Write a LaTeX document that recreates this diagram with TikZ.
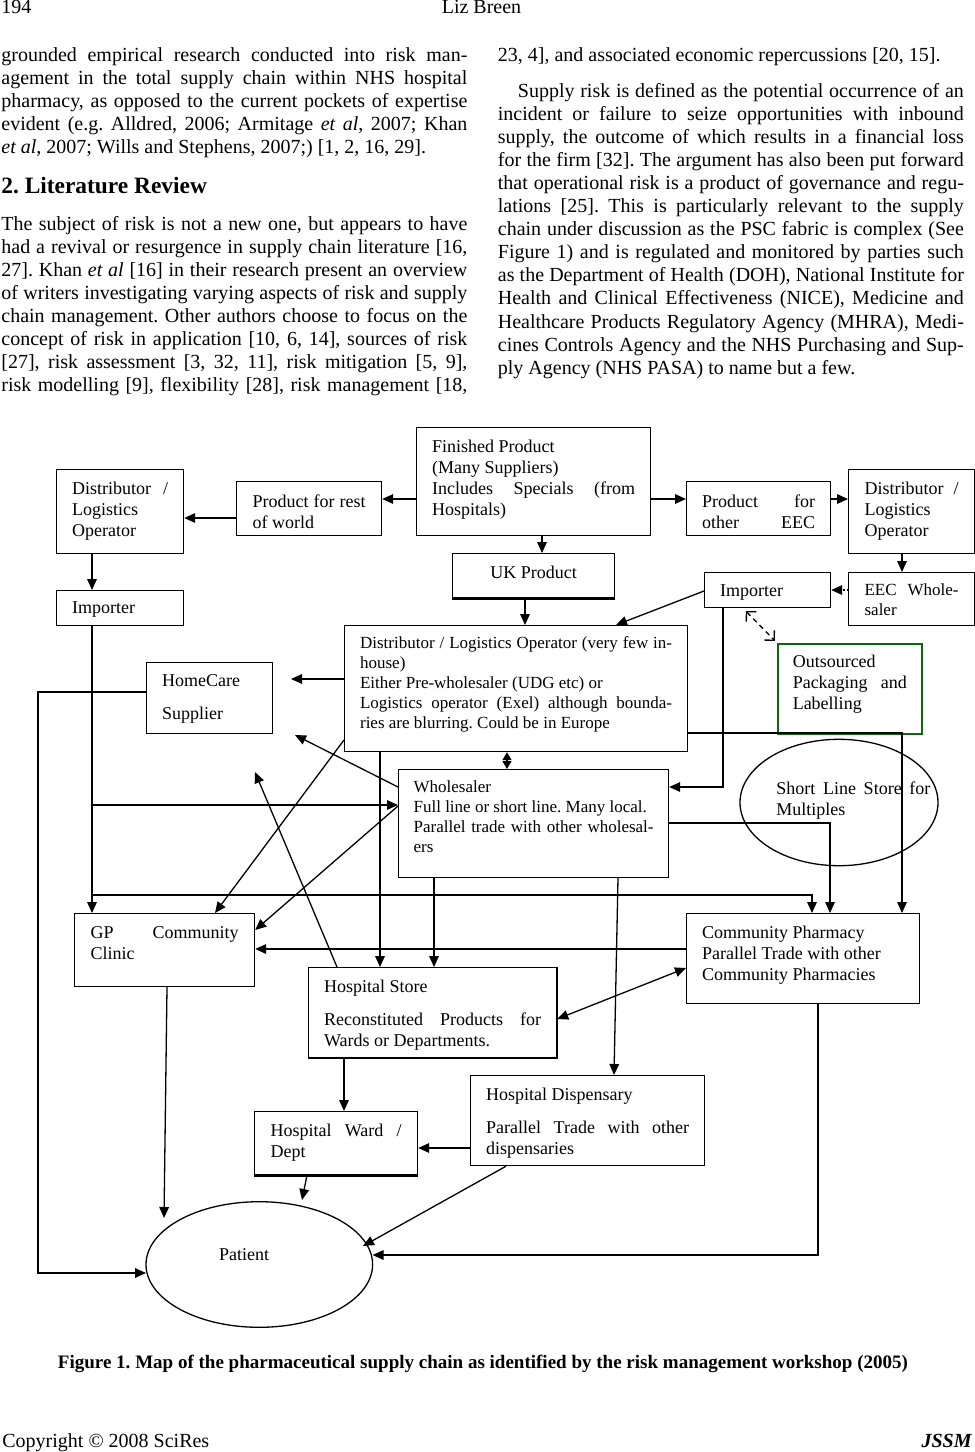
\documentclass[tikz,border=0pt]{standalone}
\usepackage{fontspec}
\setmainfont{Liberation Serif}
\usepackage{graphicx}
\usetikzlibrary{arrows.meta,shapes.geometric}
\frenchspacing
\newcommand\J[1]{{\spaceskip=0pt\xspaceskip=0pt\makebox[\hsize][s]{#1}}}
\newcommand\pbox[9]{%
  \pgfmathsetmacro\bxw{(#5-#3-2*#8)*0.5}%
  \pgfmathsetmacro\bxh{(#7-#4)*0.5}%
  \pgfmathsetmacro\bxd{(#6-#7)*0.5}%
  \pgfmathsetmacro\bxp{#8*0.5}%
  \node[bx,#1,anchor=north west,inner xsep=\bxp pt,inner ysep=0pt,
        text width=\bxw pt,text height=\bxh pt,text depth=\bxd pt] (#2) at (#3,#4) {#9};}
\definecolor{boxgreen}{RGB}{10,105,10}
\begin{document}
\begin{tikzpicture}[x=0.5pt,y=-0.5pt,
  bx/.style={draw,line width=0.6pt,align=flush left,font=\fontsize{9}{10.5}\selectfont},
  sm/.style={font=\fontsize{8.5}{10}\selectfont},
  body/.style={anchor=base west,inner sep=0pt,text width=233pt,align=flush left,font=\fontsize{10}{11.55}\selectfont},
  arr/.style={line width=0.65pt,-{Triangle[length=5.5pt,width=4.8pt]}},
  darr/.style={line width=0.65pt,{Triangle[length=5.5pt,width=4.8pt]}-{Triangle[length=5.5pt,width=4.8pt]}},
  sdarr/.style={line width=0.65pt,{Triangle[length=4pt,width=4.5pt]}-{Triangle[length=4pt,width=4.5pt]}},
  dasharr/.style={line width=0.65pt,dash pattern=on 2.5pt off 2pt,{Straight Barb[length=3.5pt,width=7pt]}-{Straight Barb[length=3.5pt,width=7pt]}},
  ell/.style={draw,ellipse,line width=0.65pt,inner sep=0pt,outer sep=0pt}
]
\fill[white] (0,0) rectangle (975,1452);
\useasboundingbox (0,0) rectangle (975,1452);

% ---------- page text ----------
\node[anchor=base west,inner sep=0pt,font=\fontsize{10}{12}\selectfont] (pno) at (1,13) {194};
\node[anchor=base,inner sep=0pt,font=\fontsize{10}{12}\selectfont] (auth) at (481.5,13) {Liz Breen};

\node[body] (colA1) at (1,61) {%
\J{grounded empirical research conducted into risk man-}\\
\J{agement in the total supply chain within NHS hospital}\\
\J{pharmacy, as opposed to the current pockets of expertise}\\
\J{evident (e.g. Alldred, 2006; Armitage \emph{et al}, 2007; Khan}\\
\emph{et al}, 2007; Wills and Stephens, 2007;) [1, 2, 16, 29].};

\node[anchor=base west,inner sep=0pt,font=\fontsize{11.7}{14}\selectfont\bfseries] (head) at (1,193) {2. Literature Review};

\node[body] (colA2) at (1,230) {%
\J{The subject of risk is not a new one, but appears to have}\\
\J{had a revival or resurgence in supply chain literature [16,}\\
\J{27]. Khan \emph{et al} [16] in their research present an overview}\\
\J{of writers investigating varying aspects of risk and supply}\\
\J{chain management. Other authors choose to focus on the}\\
\J{concept of risk in application [10, 6, 14], sources of risk}\\
\J{[27], risk assessment [3, 32, 11], risk mitigation [5, 9],}\\
\J{risk modelling [9], flexibility [28], risk management [18,}};

\node[body] (colB1) at (497.5,61) {23, 4], and associated economic repercussions [20, 15].};

\node[body] (colB2) at (497.5,97) {%
\J{\hspace*{10pt}Supply risk is defined as the potential occurrence of an}\\
\J{incident or failure to seize opportunities with inbound}\\
\J{supply, the outcome of which results in a financial loss}\\
\J{for the firm [32]. The argument has also been put forward}\\
\J{that operational risk is a product of governance and regu-}\\
\J{lations [25]. This is particularly relevant to the supply}\\
\J{chain under discussion as the PSC fabric is complex (See}\\
\J{Figure 1) and is regulated and monitored by parties such}\\
\J{as the Department of Health (DOH), National Institute for}\\
\J{Health and Clinical Effectiveness (NICE), Medicine and}\\
\J{Healthcare Products Regulatory Agency (MHRA), Medi-}\\
\J{cines Controls Agency and the NHS Purchasing and Sup-}\\
ply Agency (NHS PASA) to name but a few.};

% ---------- diagram boxes ----------
\pbox{}{fp}{416}{427}{650}{535}{452}{15.5}{Finished Product\\(Many Suppliers)\\\J{Includes Specials (from}\\Hospitals)}
\pbox{}{prow}{236}{481}{381}{535}{507}{16}{\J{Product for rest}\\of world}
\pbox{}{dlA}{56}{469}{183}{553}{494}{15.5}{\J{Distributor /}\\Logistics\\Operator}
\pbox{}{peec}{686}{481}{830}{535}{507}{15.5}{\J{Product for}\\\J{other EEC}}
\pbox{}{dlB}{848}{469}{974}{553}{494}{16}{\J{Distributor /}\\Logistics\\Operator}
\pbox{sm}{eecw}{848}{572}{974}{625}{595}{16}{\J{EEC Whole-}\\saler}
\pbox{}{impB}{704}{572}{830}{607}{596}{15.5}{Importer}
\pbox{align=flush center}{uk}{452}{553}{614}{597}{578}{10}{UK Product}
\pbox{}{impA}{56}{590}{183}{625}{613}{15.5}{Importer}
\pbox{sm}{dlC}{344}{625}{687}{751}{648}{15.5}{\J{Distributor / Logistics Operator (very few in-}\\house)\\Either Pre-wholesaler (UDG etc) or\\\J{Logistics operator (Exel) although bounda-}\\ries are blurring. Could be in Europe}
\pbox{}{home}{146}{662}{272}{733}{686}{15.5}{HomeCare\\[6pt]Supplier}
\pbox{draw=boxgreen,line width=0.75pt}{outs}{777}{643}{921}{733}{667}{15}{Outsourced\\\J{Packaging and}\\Labelling}
\pbox{sm}{whol}{398}{769}{668}{877}{792}{15}{Wholesaler\\Full line or short line. Many local.\\\J{Parallel trade with other wholesal-}\\ers}
\pbox{}{gp}{74}{913}{254}{986}{938}{16}{\J{GP Community}\\Clinic}
\pbox{}{cp}{686}{913}{919}{1003}{938}{15.5}{Community Pharmacy\\Parallel Trade with other\\Community Pharmacies}
\pbox{}{hs}{308}{967}{556}{1057}{992}{15.5}{Hospital Store\\[6pt]\J{Reconstituted Products for}\\Wards or Departments.}
\pbox{}{ward}{254}{1111}{417}{1174}{1136}{16}{\J{Hospital Ward /}\\Dept}
\pbox{}{disp}{470}{1075}{704}{1165}{1100}{15.5}{Hospital Dispensary\\[6pt]\J{Parallel Trade with other}\\dispensaries}

\node[ell,minimum width=99pt,minimum height=63.2pt] (sls) at (839,802.5) {};
\node[anchor=base west,inner sep=0pt,text width=77pt,align=flush left,font=\fontsize{9}{10.5}\selectfont] (slstext) at (776,794) {\J{Short Line Store for}\\Multiples};
\node[ell,minimum width=113.3pt,minimum height=62.8pt] (patient) at (259.3,1264.5) {};
\node[anchor=base,inner sep=0pt,font=\fontsize{9}{10.5}\selectfont] (pattext) at (244,1260.7) {Patient};

% thick edges
\draw[line width=1.3pt] (uk.south west) -- (uk.south east);
\draw[line width=1.3pt] (ward.south west) -- (ward.south east);
\draw[line width=1.2pt] (hs.north east) -- (hs.south east) -- (hs.south west);

% ---------- connectors ----------
\draw[arr] (fp.west |- 0,499) -- (prow.east |- 0,499);
\draw[arr] (prow.west |- 0,518) -- (dlA.east |- 0,518);
\draw[arr] (fp.east |- 0,499) -- (peec.west |- 0,499);
\draw[arr] (peec.east |- 0,499) -- (dlB.west |- 0,499);
\draw[arr] (dlB.south -| 902,0) -- (eecw.north -| 902,0);
\draw[line width=0.65pt,densely dotted,-{Triangle[length=5.5pt,width=4.8pt]}] (eecw.west |- 0,590) -- (impB.east |- 0,590);
\draw[arr] (fp.south -| 542,0) -- (uk.north -| 542,0);
\draw[arr] (uk.south -| 525,0) -- (dlC.north -| 525,0);
\draw[arr] (impB.west |- 0,591) -- (dlC.north -| 616,0);
\draw[arr] (dlA.south -| 92,0) -- (impA.north -| 92,0);
\draw[arr] (impA.south -| 92,0) -- (gp.north -| 92,0);
\coordinate (jA) at (92,805);
\draw[arr] (jA) -- (whol.west |- 0,805);
\coordinate (jB) at (92,895);
\draw[arr] (jB) -| (cp.north -| 812,0);
\coordinate (hcA) at (291,679);
\draw[arr] (dlC.west |- 0,679) -- (hcA);
\coordinate (lft) at (38,692);
\draw[arr] (home.west |- 0,692) -- (lft) |- (patient.west |- 0,1273);
\draw[sdarr] (whol.north -| 507,0) -- (dlC.south -| 507,0);
\draw[arr] (impB.south -| 723,0) |- (whol.east |- 0,787);
\draw[dasharr,shorten <=2pt,shorten >=1.5pt] (impB.south -| 743,0) -- (outs.north west);
\draw[arr] (dlC.east |- 0,733) -| (cp.north -| 902,0);
\draw[arr] (whol.east |- 0,823) -| (cp.north -| 830,0);
\draw[arr] (whol.south -| 434,0) -- (hs.north -| 434,0);
\draw[arr] (dlC.south -| 380,0) -- (hs.north -| 380,0);
\draw[arr] (whol.south -| 618,0) -- (disp.north -| 614,0);
\draw[arr] (dlC.west |- 0,740) -- (gp.north -| 215,0);
\draw[arr] (whol.west |- 0,806) -- (gp.east |- 0,930);
\coordinate (hcB) at (295,735);
\draw[arr] (whol.west |- 0,787) -- (hcB);
\coordinate (hcC) at (255,772);
\draw[arr] (hs.north -| 337,0) -- (hcC);
\draw[arr] (cp.west |- 0,949) -- (gp.east |- 0,949);
\draw[darr] (hs.east |- 0,1019) -- (cp.west |- 0,968);
\coordinate (ptA) at (164,1218);
\draw[arr] (gp.south -| 167,0) -- (ptA);
\draw[arr] (hs.south -| 344,0) -- (ward.north -| 344,0);
\draw[arr] (disp.west |- 0,1148) -- (ward.east |- 0,1148);
\coordinate (ptB) at (302,1200);
\draw[arr] (ward.south -| 307,0) -- (ptB);
\coordinate (ptC) at (363,1246);
\draw[arr] (disp.south -| 506,0) -- (ptC);
\draw[arr] (cp.south -| 818,0) |- (patient.east |- 0,1255);

% ---------- caption and footer ----------
\node[anchor=base,inner sep=0pt] (cap) at (483,1368) {\resizebox{425pt}{!}{\bfseries Figure 1. Map of the pharmaceutical supply chain as identified by the risk management workshop (2005)}};
\node[anchor=base west,inner sep=0pt,font=\fontsize{10}{12}\selectfont] (copy) at (2,1447) {Copyright \textcopyright\ 2008 SciRes};
\node[anchor=base east,inner sep=0pt,font=\fontsize{10}{12}\selectfont\bfseries\itshape] (jssm) at (972,1447) {JSSM};
\end{tikzpicture}
\end{document}
